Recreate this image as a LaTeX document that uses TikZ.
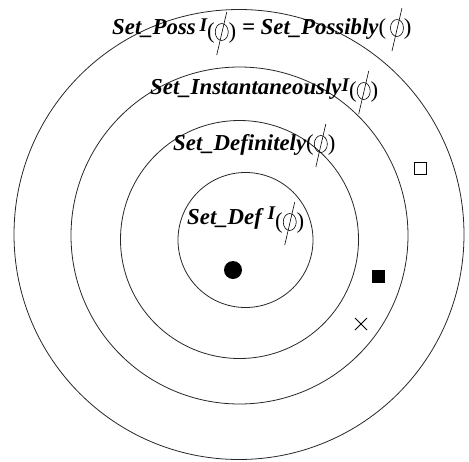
\documentclass[tikz,border=0pt]{standalone}
\usepackage{fontspec}
\setmainfont{Liberation Serif}
\usepackage{graphicx}
\newcommand{\slphi}{\tikz[baseline=0pt,x=1pt,y=1pt,line width=0.6pt]{\useasboundingbox (-7pt,0pt) rectangle (7pt,15pt); \draw (0pt,6pt) ellipse [x radius=6.5pt, y radius=8.5pt]; \draw (5pt,26pt) -- (-5pt,-17pt);}}
\newcommand{\bi}[1]{\textbf{\textit{#1}}}
\newcommand{\supI}{\raisebox{3pt}{\scalebox{0.85}{\bfseries\itshape I}}}
\begin{document}
\begin{tikzpicture}[x=1pt,y=-1pt,
  ring/.style={line width=0.8pt,draw=black!85},
  lab/.style={anchor=base west,inner sep=0pt,font=\fontsize{22.8}{26}\selectfont}]
\useasboundingbox (0,0) rectangle (469,461);
\draw[ring] (239,234.5) circle [radius=225];
\draw[ring] (239.5,235.5) circle [radius=168.5];
\draw[ring] (239.5,239.5) circle [radius=119];
\draw[ring] (245.5,240) circle [radius=67.5];
\node[lab] (l1) at (112,34) {\bi{Set\_Poss}\,\supI\raisebox{-4pt}{(\slphi)} \bi{= Set\_Possibly}(\,\slphi)};
\node[lab] (l2) at (150,94) {\bi{Set\_Instantaneously}\supI\raisebox{-3pt}{(\slphi)}};
\node[lab] (l3) at (173,150) {\bi{Set\_Definitely}(\slphi)};
\node[lab] (l4) at (187,224) {\bi{Set\_Def}\,\raisebox{5pt}{\scalebox{0.85}{\bfseries\itshape I}}\raisebox{-4pt}{(\slphi)}};
\fill (233,270) circle [radius=9];
\node[draw,line width=0.8pt,minimum size=12pt,inner sep=0pt] (os) at (420,168) {};
\node[fill,minimum size=13pt,inner sep=0pt] (fs) at (378,276) {};
\draw[line width=0.8pt] (355,318) -- (367,330) (355,330) -- (367,318);
\end{tikzpicture}
\end{document}
